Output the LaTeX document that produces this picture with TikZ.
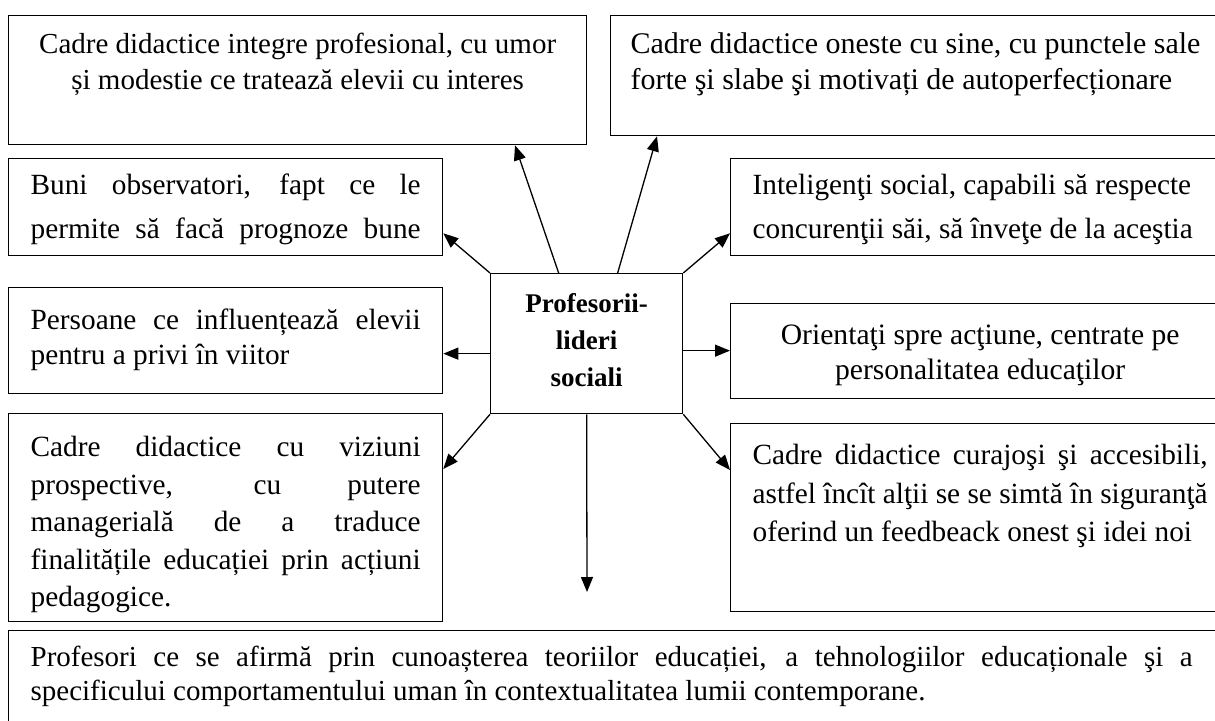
\documentclass[tikz,border=0pt]{standalone}
\usepackage{fontspec}
\setmainfont{Liberation Serif}
\usetikzlibrary{arrows.meta,calc}
\newcommand\bt[5]{\parbox[c][#1pt][t]{#2pt}{#4\rule{0pt}{#3pt}#5}}
\newcommand\jl[1]{\makebox[\linewidth][s]{#1}}
\tikzset{
  box/.style={draw, line width=1.3pt, inner sep=0pt, inner xsep=22pt, anchor=north west},
  fs/.style args={#1/#2}{font=\fontsize{#1}{#2}\selectfont},
  arr/.style={line width=1.3pt, -{Triangle[length=15pt,width=12pt]}}
}
\begin{document}
\begin{tikzpicture}[x=1pt,y=-1pt]
\useasboundingbox (0,0) rectangle (1215,720);
\node[box,fs=29/36] (b1) at (8,15) {\bt{129}{534}{38}{\centering}{Cadre didactice integre profesional, cu umor\\ și modestie ce tratează elevii cu interes}};
\node[box,fs=30/36,inner xsep=20pt] (b2) at (610,15) {\bt{120}{600}{38}{\raggedright}{Cadre didactice oneste cu sine, cu punctele sale\\ forte şi slabe şi motivați de autoperfecționare}};
\node[box,fs=29.3/44] (b3) at (8,158) {\bt{97}{390}{36}{}{\jl{Buni observatori, fapt ce le}\\ \jl{permite să facă prognoze bune}}};
\node[box,fs=29.3/44] (b4) at (730,158) {\bt{97}{480}{36}{\raggedright}{Inteligenţi social, capabili să respecte\\ concurenţii săi, să înveţe de la aceştia}};
\node[box,fs=29.3/35] (b5) at (8,287) {\bt{106}{390}{42}{}{\jl{Persoane ce influențează elevii}\\ pentru a privi în viitor}};
\node[box,inner xsep=0pt,font=\bfseries\fontsize{27}{37}\selectfont] (c) at (490,273) {\bt{140}{192}{39}{\centering}{Profesorii-\\ lideri\\ sociali}};
\node[box,fs=29.6/35,inner xsep=0pt] (b6) at (730,303) {\bt{95}{498}{41}{}{\hspace*{22pt}\parbox[t]{455pt}{\centering Orientaţi spre acţiune, centrate pe\\ personalitatea educaţilor}}};
\node[box,fs=29.3/37.5] (b7) at (8,413) {\bt{208}{390}{43}{}{\jl{Cadre didactice cu viziuni}\\ \jl{prospective, cu putere}\\ \jl{managerială de a traduce}\\ \jl{finalitățile educației prin acțiuni}\\ pedagogice.}};
\node[box,fs=29.3/38.5,inner xsep=0pt] (b8) at (730,423) {\bt{188}{520}{41}{}{\hspace*{22pt}\parbox[t]{455pt}{\jl{Cadre didactice curajoşi şi accesibili,}\\ \jl{astfel încît alţii se se simtă în siguranţă}\\ oferind un feedbeack onest şi idei noi}}};
\node[box,fs=29/34,inner xsep=0pt] (b9) at (8,630) {\bt{95}{1240}{36}{}{\hspace*{22pt}\parbox[t]{1162pt}{\jl{Profesori ce se afirmă prin cunoașterea teoriilor educației, a tehnologiilor educaționale şi a}\\ specificului comportamentului uman în contextualitatea lumii contemporane.}}};
\coordinate (dn) at (587,592);
\draw[arr] ($(c.north)+(-28,0)$) -- ($(b1.south west)+(507,0)$);
\draw[arr] ($(c.north)+(31,0)$) -- ($(b2.south west)+(47,0)$);
\draw[arr] (c.north west) -- ($(b3.south east)+(0,-23)$);
\draw[arr] (c.north east) -- ($(b4.south west)+(0,-23)$);
\draw[arr] ($(c.west)+(0,10)$) coordinate (cw) -- (cw -| b5.east);
\draw[arr] ($(c.east)+(0,7)$) coordinate (ce) -- (ce -| b6.west);
\draw[arr] (c.south west) -- ($(b7.north east)+(0,56)$);
\draw[arr] (c.south east) -- ($(b8.north west)+(0,47)$);
\draw[arr] (c.south) -- (dn);
\end{tikzpicture}
\end{document}
